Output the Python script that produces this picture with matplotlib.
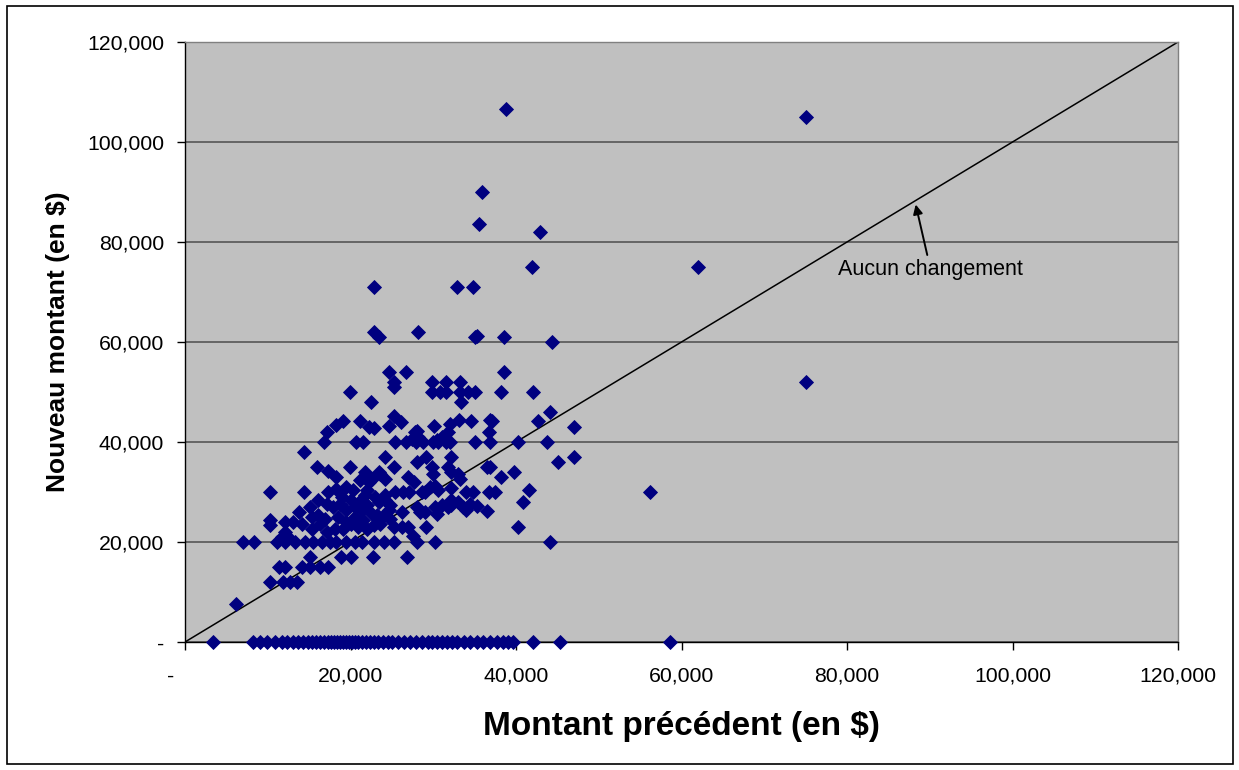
import matplotlib
matplotlib.use("Agg")
import matplotlib.pyplot as plt
from matplotlib.ticker import FuncFormatter, MultipleLocator
from matplotlib.patches import Rectangle

# ---------------- data ----------------
# previous amounts whose new amount is 0
prev_zero = [3400, 8200, 9100, 9900, 10900, 11700, 12300, 13100, 13700, 14300, 14900,
             15300, 15800, 16300, 16800, 17300, 17600, 18000, 18400, 18700, 19100, 19500,
             19800, 20200, 20500, 20900, 21400, 21900, 22400, 22800, 23300, 23900, 24500,
             25000, 25700, 26500, 27200, 27900, 28600, 29400, 29800, 30500, 31100, 31700,
             32300, 32900, 33700, 34400, 35300, 36000, 36900, 37700, 38400, 39000, 39600,
             42000, 45300, 58600]

# previous / new amounts (non-zero new amount)
prev_amount = [
    75000, 38800, 35900, 35500, 42900, 41900, 62000, 22800, 32900, 34800,
    22900, 23400, 28100, 35000, 35300, 38600, 44300, 75000, 56200,
    24700, 26700, 38600, 25300, 25300, 29900, 31600, 33200,
    19900, 29900, 30800, 31600, 33200, 34200, 35000, 38200, 42000,
    33400, 22500, 44100, 25300, 26100,
    22200, 22800, 24700, 28000, 30100, 32000, 33100, 34600, 36800, 37100, 42700,
    36700, 17100, 18300, 19100, 21100,
    31800, 31000, 30400, 27800, 28200, 27400,
    16800, 20700, 21500, 25400, 26700, 27900, 28800, 30000, 30600, 31500, 32000, 35000, 36800, 40200, 43700,
    14400, 24200, 29100, 32200, 47000, 47000, 45100, 28000,
    16000, 19900, 25300, 29900, 31800, 36500, 36900,
    17300, 21800, 23400, 30000, 32200, 33000, 39800, 33200,
    18300, 21100, 22200, 22600, 23600, 24200, 27000, 27700, 38200,
    19500, 29600, 30200, 32200, 41600, 18300, 20300, 30600,
    10300, 14400, 17300, 21800, 24200, 25400, 26400, 27100, 28600, 29000, 34000, 34800, 36700, 37500,
    40900, 24200, 24800, 24600, 32200, 33000,
    28000, 28400, 29000, 30200, 30400, 31000, 31800, 32200, 33600, 34000, 34400, 35300, 36500,
    23200, 24000, 24800, 26200,
    13800, 15100, 16100, 17100, 17900, 18700, 19500, 20500, 21400, 22600,
    19000, 20000, 21000, 22000, 20500, 21500, 19500, 18500, 23000, 22000, 23500,
    10300, 10300, 12100, 13100, 14100, 15300, 16100, 16900,
    22800, 23600, 25200, 26200, 27000, 29100, 40200,
    12100, 11700, 12500, 15300, 16300, 17100, 18100, 19100, 20100, 20900, 22000, 27600,
    7000, 8300, 11100, 12100, 13300, 14500, 15500, 16500, 17500, 18300, 19500, 20500, 21400, 22800,
    24000, 25300, 28000, 30200, 44100,
    15100, 18900, 20100, 22700, 26800,
    11300, 12100, 14100, 15100, 16300, 17300,
    10300, 11900, 12700, 13500,
    6200,
]
new_amount = [
    105000, 106500, 90000, 83500, 82000, 75000, 75000, 71000, 71000, 71000,
    62000, 61000, 62000, 61000, 61200, 61000, 60000, 52000, 30000,
    54000, 54000, 54000, 52000, 51000, 52000, 52000, 52000,
    50000, 50000, 50000, 50000, 50000, 50000, 50000, 50000, 50000,
    48000, 48000, 46000, 45200, 44000,
    43000, 42800, 43200, 42300, 43200, 43700, 44400, 44100, 44400, 44100, 44100,
    42000, 42000, 43400, 44100, 44100,
    42000, 41000, 40400, 42000, 41100, 40700,
    40000, 40000, 40000, 40000, 40000, 40000, 40000, 40000, 40000, 40000, 40000, 40000, 40000, 40000, 40000,
    38000, 37000, 37000, 37000, 43000, 37000, 36000, 36000,
    35000, 35000, 35000, 35000, 35000, 35000, 35000,
    34300, 34000, 34000, 33700, 34000, 33700, 34000, 32700,
    33000, 32400, 32000, 32700, 33700, 32700, 33000, 32000, 33000,
    31000, 31000, 31200, 30900, 30500, 30700, 30400, 30400,
    30000, 30000, 30000, 29400, 29400, 30000, 30000, 30000, 30000, 30000, 30000, 30000, 30000, 30000,
    28000, 28400, 27400, 26400, 28400, 28100,
    27000, 26000, 26000, 27000, 25700, 27400, 27000, 27400, 27000, 26400, 27700, 27200, 26200,
    25500, 25400, 24700, 26100,
    26000, 27000, 28400, 27700, 27000, 27700, 26400, 27000, 26400, 25700,
    29000, 28500, 28000, 27500, 25000, 24500, 24000, 25000, 29000, 30500, 28000,
    24400, 23400, 24000, 24000, 23700, 25000, 25400, 24700,
    23400, 23700, 23000, 23000, 23000, 23000, 23000,
    22000, 21000, 21000, 22700, 23700, 22000, 22700, 22700, 23700, 23000, 22700, 21200,
    20000, 20000, 20000, 20000, 20000, 20000, 20000, 20000, 20000, 20000, 20000, 20000, 20000, 20000,
    20000, 20000, 20000, 20000, 20000,
    17000, 17000, 17000, 17000, 17000,
    15000, 15000, 15000, 15000, 15000, 15000,
    12000, 12000, 12000, 12000,
    7700,
]

axis_max = 120000
tick_step = 20000
ref_line = [0, 120000]

x_label = "Montant précédent (en $)"
y_label = "Nouveau montant (en $)"
note_text = "Aucun changement"

# ---------------- figure ----------------
plt.rcParams['font.family'] = ['Liberation Sans', 'DejaVu Sans']

fig = plt.figure(figsize=(12.39, 7.70), dpi=100)
fig.patch.set_facecolor('white')
fig.add_artist(Rectangle((7 / 1239, 6 / 770), 1226 / 1239, 758 / 770,
                         transform=fig.transFigure, fill=False,
                         edgecolor='black', linewidth=1.2))

ax = fig.add_axes([185 / 1239, 128 / 770, 993 / 1239, 600 / 770])
ax.set_facecolor('#C0C0C0')

ax.set_xlim(0, axis_max)
ax.set_ylim(0, axis_max)
ax.xaxis.set_major_locator(MultipleLocator(tick_step))
ax.yaxis.set_major_locator(MultipleLocator(tick_step))


def fmt_y(v, pos):
    return "-" if abs(v) < 1 else f"{int(round(v)):,}"


def fmt_x(v, pos):
    return "-     " if abs(v) < 1 else f"{int(round(v)):,}"


ax.xaxis.set_major_formatter(FuncFormatter(fmt_x))
ax.yaxis.set_major_formatter(FuncFormatter(fmt_y))

ax.grid(axis='y', color='#4d4d4d', linewidth=1.1)
ax.set_axisbelow(True)

for side in ('top', 'right'):
    ax.spines[side].set_color('#808080')
    ax.spines[side].set_linewidth(1.0)
for side in ('left', 'bottom'):
    ax.spines[side].set_color('black')
    ax.spines[side].set_linewidth(1.0)

ax.tick_params(axis='both', direction='out', length=6, width=1.0,
               labelsize=15.3, colors='black')
ax.tick_params(axis='x', pad=12)
ax.tick_params(axis='y', pad=9)

# reference line (no change)
ax.plot(ref_line, ref_line, color='black', linewidth=1.1, zorder=2)

# data points
ax.plot(prev_amount, new_amount, linestyle='none', marker='D', markersize=7.0,
        color='#000080', markeredgecolor='#000080', markeredgewidth=0.6,
        zorder=3, clip_on=False)
ax.plot(prev_zero, [0] * len(prev_zero), linestyle='none', marker='D', markersize=7.0,
        color='#000080', markeredgecolor='#000080', markeredgewidth=0.6,
        zorder=3, clip_on=False)

# annotation
ax.annotate("", xy=(88300, 87500), xytext=(89700, 77400),
            arrowprops=dict(arrowstyle='-|>', color='black', lw=1.4,
                            mutation_scale=14, shrinkA=0, shrinkB=0))
ax.text(78900, 74400, note_text, fontsize=15.5, ha='left', va='center', color='black')

ax.set_xlabel(x_label, fontsize=24, fontweight='bold', labelpad=18)
ax.set_ylabel(y_label, fontsize=19, fontweight='bold', labelpad=12)

fig.savefig("out.png", dpi=100, facecolor='white')
